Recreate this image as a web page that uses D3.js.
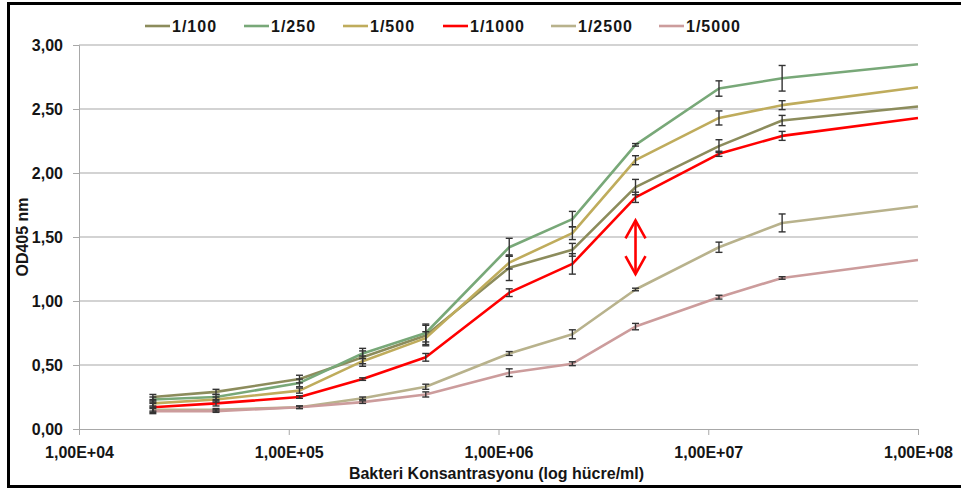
<!DOCTYPE html>
<html>
<head>
  <script src="https://d3js.org/d3.v7.min.js"></script>
  <style>
    body { margin: 0; background: #fff; }
    text { font-family: "Liberation Sans", Arial, sans-serif; font-weight: bold; fill: #151515; }
  </style>
</head>
<body>
  <div id="chart"></div>
  <script>
    // bacteria concentration (cells/ml)
    const conc = [2.25e4, 4.5e4, 1.125e5, 2.25e5, 4.5e5, 1.125e6, 2.25e6, 4.5e6, 1.125e7, 2.25e7, 1e8];

    const seriesNames = ["1/100", "1/250", "1/500", "1/1000", "1/2500", "1/5000"];
    const seriesColors = ["#8c8c5c", "#78a878", "#bfac5c", "#ff0000", "#b8b28c", "#cc9c9c"];

    const od100  = [0.25, 0.29, 0.39, 0.56, 0.73, 1.26, 1.40, 1.89, 2.21, 2.41, 2.52];
    const od250  = [0.23, 0.25, 0.36, 0.59, 0.75, 1.42, 1.64, 2.22, 2.66, 2.74, 2.85];
    const od500  = [0.20, 0.23, 0.30, 0.53, 0.71, 1.30, 1.53, 2.10, 2.43, 2.53, 2.67];
    const od1000 = [0.17, 0.20, 0.25, 0.39, 0.56, 1.065, 1.29, 1.81, 2.15, 2.29, 2.43];
    const od2500 = [0.15, 0.15, 0.17, 0.24, 0.33, 0.59, 0.74, 1.09, 1.42, 1.61, 1.74];
    const od5000 = [0.14, 0.14, 0.17, 0.21, 0.27, 0.44, 0.51, 0.80, 1.03, 1.18, 1.32];

    // error bar half-heights (last point has none)
    const err100  = [0.02, 0.02, 0.03, 0.05, 0.08, 0.10, 0.05, 0.06, 0.05, 0.04, null];
    const err250  = [0.02, 0.02, 0.03, 0.04, 0.07, 0.07, 0.06, 0.01, 0.06, 0.10, null];
    const err500  = [0.02, 0.02, 0.02, 0.04, 0.05, 0.05, 0.05, 0.035, 0.055, 0.035, null];
    const err1000 = [0.03, 0.02, 0.01, 0.01, 0.03, 0.03, 0.08, 0.04, 0.02, 0.035, null];
    const err2500 = [0.02, 0.01, 0.01, 0.01, 0.02, 0.015, 0.035, 0.01, 0.04, 0.07, null];
    const err5000 = [0.02, 0.01, 0.01, 0.01, 0.02, 0.03, 0.015, 0.025, 0.015, 0.01, null];

    const seriesValues = [od100, od250, od500, od1000, od2500, od5000];
    const seriesErrors = [err100, err250, err500, err1000, err2500, err5000];

    const xTicks = [1e4, 1e5, 1e6, 1e7, 1e8];
    const yTicks = [0, 0.5, 1, 1.5, 2, 2.5, 3];

    const W = 961, H = 489;
    const margin = { top: 45, right: 43, bottom: 60, left: 79 };
    const width = W - margin.left - margin.right;
    const height = H - margin.top - margin.bottom;

    const svg = d3.select("#chart").append("svg")
      .attr("width", W).attr("height", H);

    // outer frame
    svg.append("path")
      .attr("d", "M965,3.5 H8.5 V486.5 H965")
      .attr("fill", "none").attr("stroke", "#000").attr("stroke-width", 3);

    const g = svg.append("g").attr("transform", `translate(${margin.left},${margin.top})`);

    const x = d3.scaleLog().domain([1e4, 1e8]).range([0, width]);
    const y = d3.scaleLinear().domain([0, 3]).range([height, 0]);

    // grid
    g.selectAll(".grid").data(yTicks.slice(1)).enter().append("line")
      .attr("x1", 0).attr("x2", width)
      .attr("y1", d => y(d)).attr("y2", d => y(d))
      .attr("stroke", "#c4c4c4").attr("stroke-width", 1.3);

    const yAxis = g.append("g")
      .call(d3.axisLeft(y).tickValues(yTicks).tickSize(6).tickPadding(10)
        .tickFormat(d => d3.format(".2f")(d).replace(".", ",")));
    yAxis.selectAll("line, path").attr("stroke", "#a8a8a8");
    yAxis.selectAll("text").style("font-size", "16px");

    const xAxis = g.append("g").attr("transform", `translate(0,${height})`)
      .call(d3.axisBottom(x).tickValues(xTicks).tickSize(6).tickPadding(12)
        .tickFormat(d => "1,00E+0" + Math.round(Math.log10(d))));
    xAxis.selectAll("line, path").attr("stroke", "#a8a8a8");
    xAxis.selectAll("text").style("font-size", "16px");

    // axis titles
    g.append("text")
      .attr("x", width / 2 - 2).attr("y", height + 50)
      .attr("text-anchor", "middle").style("font-size", "16px")
      .text("Bakteri Konsantrasyonu (log hücre/ml)");
    g.append("text")
      .attr("transform", `translate(${-margin.left + 28},${height / 2}) rotate(-90)`)
      .attr("text-anchor", "middle").style("font-size", "16px")
      .text("OD405 nm");

    const line = d3.line().x((d, i) => x(conc[i])).y(d => y(d));

    seriesValues.forEach((vals, s) => {
      g.append("path").datum(vals)
        .attr("d", line)
        .attr("fill", "none")
        .attr("stroke", seriesColors[s])
        .attr("stroke-width", 2.6)
        .attr("stroke-linejoin", "round");
    });

    // error bars
    seriesValues.forEach((vals, s) => {
      const errs = seriesErrors[s];
      vals.forEach((v, i) => {
        const e = errs[i];
        if (e == null) return;
        const cx = x(conc[i]);
        const eg = g.append("g").attr("stroke", "#333").attr("stroke-width", 1.4);
        eg.append("line").attr("x1", cx).attr("x2", cx).attr("y1", y(v - e)).attr("y2", y(v + e));
        eg.append("line").attr("x1", cx - 3.5).attr("x2", cx + 3.5).attr("y1", y(v - e)).attr("y2", y(v - e));
        eg.append("line").attr("x1", cx - 3.5).attr("x2", cx + 3.5).attr("y1", y(v + e)).attr("y2", y(v + e));
      });
    });

    // red double arrow annotation
    const ax = x(4.5e6), aTop = y(1.63), aBot = y(1.21);
    const ag = g.append("g").attr("stroke", "#ff0000").attr("stroke-width", 2.6).attr("fill", "none");
    ag.append("line").attr("x1", ax).attr("x2", ax).attr("y1", aTop).attr("y2", aBot);
    ag.append("path").attr("d", `M${ax - 10},${aTop + 18} L${ax},${aTop} L${ax + 10},${aTop + 18}`);
    ag.append("path").attr("d", `M${ax - 10},${aBot - 18} L${ax},${aBot} L${ax + 10},${aBot - 18}`);

    // legend
    const legX = [145, 244, 343, 443, 551, 659];
    const leg = svg.append("g");
    seriesNames.forEach((name, s) => {
      leg.append("line")
        .attr("x1", legX[s]).attr("x2", legX[s] + 25)
        .attr("y1", 26).attr("y2", 26)
        .attr("stroke", seriesColors[s]).attr("stroke-width", 2.6);
      leg.append("text")
        .attr("x", legX[s] + 27).attr("y", 32)
        .style("font-size", "16px").style("letter-spacing", "1px")
        .text(name);
    });
  </script>
</body>
</html>
